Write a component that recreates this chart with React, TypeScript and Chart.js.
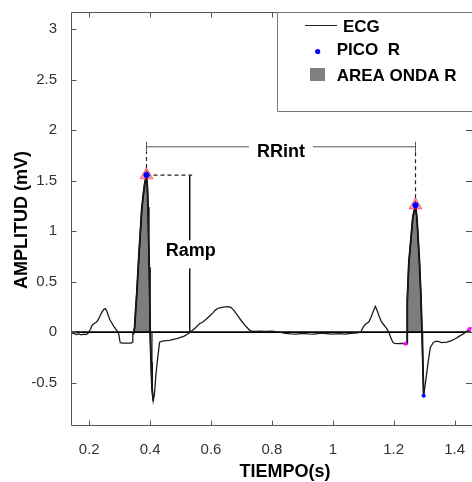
import React, { useEffect, useRef } from "react";
import { Chart, registerables } from "chart.js";

Chart.register(...registerables);

// ---------- data ----------
const ecgTime = [
  0.14, 0.15, 0.158, 0.166, 0.174, 0.182, 0.19, 0.197, 0.204, 0.21, 0.216, 0.224, 0.23, 0.236, 0.242, 0.248,
  0.253, 0.258, 0.263, 0.268, 0.274, 0.28, 0.286, 0.292, 0.297, 0.3, 0.302, 0.31, 0.32, 0.33, 0.338, 0.341,
  0.343, 0.346, 0.349, 0.352, 0.356, 0.36, 0.364, 0.368, 0.372, 0.377, 0.382, 0.388, 0.391, 0.393, 0.395,
  0.397, 0.399, 0.4, 0.403, 0.406, 0.41, 0.414, 0.419, 0.425, 0.431, 0.44, 0.452, 0.464, 0.476, 0.488, 0.5,
  0.512, 0.522, 0.53, 0.54, 0.55, 0.562, 0.573, 0.585, 0.595, 0.606, 0.615, 0.625, 0.64, 0.655, 0.665,
  0.675, 0.688, 0.7, 0.715, 0.728, 0.74, 0.76, 0.78, 0.8, 0.82, 0.84, 0.86, 0.88, 0.9, 0.92, 0.94, 0.96,
  0.98, 1.0, 1.02, 1.04, 1.06, 1.08, 1.092, 1.1, 1.108, 1.118, 1.126, 1.134, 1.14, 1.146, 1.153, 1.16,
  1.168, 1.176, 1.184, 1.19, 1.197, 1.203, 1.215, 1.228, 1.2386, 1.2443, 1.2446, 1.2498, 1.2586, 1.2629,
  1.2717, 1.2766, 1.2844, 1.2896, 1.293, 1.2985, 1.304, 1.3126, 1.3205, 1.331, 1.342, 1.358, 1.375, 1.39,
  1.402, 1.416, 1.4295, 1.441, 1.451, 1.459,
];
const ecgAmp = [
  -0.01, -0.012, -0.025, -0.018, -0.028, -0.02, -0.025, -0.01, 0.03, 0.07, 0.085, 0.1, 0.125, 0.165, 0.2, 0.225,
  0.232, 0.205, 0.16, 0.12, 0.09, 0.06, 0.035, 0.01, -0.02, -0.08, -0.105, -0.11, -0.11, -0.11, -0.11, -0.1,
  -0.02, -0.01, 0.05, 0.2, 0.38, 0.6, 0.81, 1.0, 1.2, 1.35, 1.47, 1.555, 1.43, 1.24, 0.95,
  0.64, 0.3, 0.0, -0.3, -0.55, -0.68, -0.62, -0.42, -0.25, -0.1, -0.09, -0.085, -0.082, -0.072, -0.065, -0.052,
  -0.04, -0.022, -0.005, 0.02, 0.045, 0.083, 0.1, 0.13, 0.16, 0.19, 0.22, 0.238, 0.248, 0.252, 0.245,
  0.215, 0.16, 0.11, 0.055, 0.015, 0.008, 0.01, 0.006, 0.01, 0.002, -0.01, -0.018, -0.02, -0.012, -0.018, -0.02, -0.01,
  -0.015, -0.02, -0.015, -0.02, -0.012, -0.008, 0.0, 0.05, 0.08, 0.1, 0.15, 0.215, 0.255, 0.21, 0.15, 0.1,
  0.07, 0.04, 0.0, -0.05, -0.1, -0.112, -0.115, -0.113, -0.115, -0.115, 0.31, 0.69, 0.99, 1.14,
  1.257, 1.12, 0.71, 0.35, 0.0, -0.63, -0.51, -0.31, -0.15, -0.1, -0.09, -0.105, -0.1, -0.085,
  -0.066, -0.04, -0.016, 0.01, 0.033, 0.05,
];
const peakTime = [0.388, 1.2717];
const peakAmp = [1.555, 1.257];
const onsetTime = [1.2386, 1.449];
const onsetAmp = [-0.115, 0.03];
const sMinTime = [1.2985];
const sMinAmp = [-0.63];
const areaStart = [0.343, 1.2443];
const areaEnd = [0.411, 1.2986];
const xTicks = [0.2, 0.4, 0.6, 0.8, 1, 1.2, 1.4];
const yTicks = [-0.5, 0, 0.5, 1, 1.5, 2, 2.5, 3];
const legendLabels = ["ECG", "PICO  R", "AREA ONDA R"];
const xTitle = "TIEMPO(s)";
const yTitle = "AMPLITUD (mV)";
const rrLabel = "RRint";
const rampLabel = "Ramp";

const X_MIN = 0.14;
const X_MAX = 1.4556;
const Y_MIN = -0.93;
const Y_MAX = 3.17;
const RR_LEVEL = 1.835;
const RR_CAP = 0.05;
const RAMP_X = 0.53;
const RAMP_TEXT_Y = 0.82;

const FONT = '"Liberation Sans", Arial, Helvetica, sans-serif';

const pts = (xs: number[], ys: number[]) => xs.map((x, i) => ({ x, y: ys[i] }));

const overlayPlugin = {
  id: "overlay",
  afterDraw(chart: any) {
    const { ctx, chartArea: a, scales } = chart;
    const x = scales.x;
    const y = scales.y;
    ctx.save();
    // frame (left, top, bottom) + inner ticks
    ctx.strokeStyle = "#555";
    ctx.lineWidth = 1;
    const L = Math.round(a.left) + 0.5;
    const R = Math.round(a.right);
    const T = Math.round(a.top) + 0.5;
    const B = Math.round(a.bottom) - 0.5;
    ctx.beginPath();
    ctx.moveTo(R, T);
    ctx.lineTo(L, T);
    ctx.lineTo(L, B);
    ctx.lineTo(R, B);
    for (const t of xTicks) {
      const px = Math.round(x.getPixelForValue(t)) + 0.5;
      ctx.moveTo(px, B);
      ctx.lineTo(px, B - 5);
      ctx.moveTo(px, T);
      ctx.lineTo(px, T + 5);
    }
    for (const t of yTicks) {
      const py = Math.round(y.getPixelForValue(t)) + 0.5;
      ctx.moveTo(L, py);
      ctx.lineTo(L + 5, py);
      ctx.moveTo(R, py);
      ctx.lineTo(R - 6, py);
    }
    ctx.stroke();

    // RRint label
    ctx.font = `bold 18px ${FONT}`;
    ctx.textAlign = "center";
    ctx.textBaseline = "alphabetic";
    const rrx = x.getPixelForValue((peakTime[0] + peakTime[1]) / 2);
    const rry = y.getPixelForValue(RR_LEVEL);
    const rrw = ctx.measureText(rrLabel).width;
    ctx.fillStyle = "#fff";
    ctx.fillRect(rrx - rrw / 2 - 8, rry - 10, rrw + 16, 20);
    ctx.fillStyle = "#000";
    ctx.fillText(rrLabel, rrx, rry + 4 + 0.358 * 18);

    // Ramp label
    const rpx = x.getPixelForValue(RAMP_X);
    const rpy = y.getPixelForValue(RAMP_TEXT_Y);
    const rpw = ctx.measureText(rampLabel).width;
    ctx.fillStyle = "#fff";
    ctx.fillRect(rpx - rpw / 2 - 2, rpy - 9, rpw + 4, 28);
    ctx.fillStyle = "#000";
    ctx.fillText(rampLabel, rpx + 1, rpy + 0.358 * 18);

    // legend (box continues past the right edge)
    ctx.fillStyle = "#fff";
    ctx.fillRect(277, 12, 230, 100);
    ctx.strokeStyle = "#777";
    ctx.lineWidth = 1;
    ctx.beginPath();
    ctx.moveTo(520, 12.5);
    ctx.lineTo(277.5, 12.5);
    ctx.lineTo(277.5, 111.5);
    ctx.lineTo(520, 111.5);
    ctx.stroke();
    ctx.strokeStyle = "#222";
    ctx.beginPath();
    ctx.moveTo(305, 25.5);
    ctx.lineTo(337, 25.5);
    ctx.stroke();
    ctx.fillStyle = "#0000ff";
    ctx.beginPath();
    ctx.arc(317.7, 51.5, 2.6, 0, Math.PI * 2);
    ctx.fill();
    ctx.fillStyle = "#808080";
    ctx.fillRect(310, 68, 15, 13);
    ctx.fillStyle = "#000";
    ctx.font = `bold 17px ${FONT}`;
    ctx.textAlign = "left";
    ctx.fillText(legendLabels[0], 343, 25.8 + 0.358 * 17);
    ctx.fillText(legendLabels[1], 336.7, 49.2 + 0.358 * 17);
    ctx.fillText(legendLabels[2], 336.7, 75 + 0.358 * 17);

    // axis titles
    ctx.font = `bold 18px ${FONT}`;
    ctx.textAlign = "center";
    ctx.fillText(xTitle, 285, 476.5);
    ctx.translate(27, 220);
    ctx.rotate(-Math.PI / 2);
    ctx.fillText(yTitle, 0, 0);
    ctx.restore();
  },
};

export default function App() {
  const ref = useRef<HTMLCanvasElement | null>(null);

  useEffect(() => {
    if (!ref.current) return;
    const ecg = pts(ecgTime, ecgAmp);
    const areas = areaStart.map((s, i) => ecg.filter((p) => p.x >= s && p.x <= areaEnd[i]));
    const p0 = { x: peakTime[0], y: peakAmp[0] };
    const p1 = { x: peakTime[1], y: peakAmp[1] };
    const base = { showLine: true, pointRadius: 0, fill: false, tension: 0 };
    const dashed = { ...base, borderColor: "#222", borderWidth: 1.2, borderDash: [4, 3] };

    const datasets: any[] = [
      { ...base, data: pts(peakTime, peakAmp), showLine: false, pointRadius: 3, pointBackgroundColor: "#0000ff", pointBorderColor: "#0000ff", borderWidth: 0, order: 0 },
      { ...base, data: pts(peakTime, peakAmp), showLine: false, pointStyle: "triangle", pointRadius: 7.5, pointBackgroundColor: "rgba(255,40,60,0.45)", pointBorderColor: "rgba(255,40,60,0.6)", pointBorderWidth: 1, order: 1 },
      { ...base, data: pts(onsetTime, onsetAmp), showLine: false, pointRadius: 1.6, pointBackgroundColor: "#ff00ff", pointBorderColor: "#ff00ff", order: 2 },
      { ...base, data: pts(sMinTime, sMinAmp), showLine: false, pointRadius: 1.6, pointBackgroundColor: "#0000ff", pointBorderColor: "#0000ff", order: 2 },
      { ...base, data: ecg, borderColor: "#1a1a1a", borderWidth: 1.3, order: 3 },
      { ...base, data: [{ x: X_MIN, y: 0 }, { x: X_MAX, y: 0 }], borderColor: "#000", borderWidth: 1.8, order: 4 },
      ...areas.map((d) => ({ ...base, data: d, fill: "origin", backgroundColor: "#7d7d7d", borderColor: "#000", borderWidth: 1.8, order: 5 })),
      // RRint
      { ...dashed, data: [p0, { x: p0.x, y: RR_LEVEL - RR_CAP }], order: 6 },
      { ...dashed, data: [p1, { x: p1.x, y: RR_LEVEL - RR_CAP }], order: 6 },
      { ...base, data: [{ x: p0.x, y: RR_LEVEL }, { x: p1.x, y: RR_LEVEL }], borderColor: "#555", borderWidth: 1, order: 6 },
      { ...base, data: [{ x: p0.x, y: RR_LEVEL - RR_CAP }, { x: p0.x, y: RR_LEVEL + RR_CAP }], borderColor: "#555", borderWidth: 1, order: 6 },
      { ...base, data: [{ x: p1.x, y: RR_LEVEL - RR_CAP }, { x: p1.x, y: RR_LEVEL + RR_CAP }], borderColor: "#555", borderWidth: 1, order: 6 },
      // Ramp
      { ...dashed, data: [p0, { x: RAMP_X + 0.008, y: p0.y }], order: 6 },
      { ...base, data: [{ x: RAMP_X, y: p0.y }, { x: RAMP_X, y: 0 }], borderColor: "#111", borderWidth: 1.5, order: 6 },
    ];

    const chart = new Chart(ref.current, {
      type: "scatter",
      data: { datasets },
      plugins: [overlayPlugin],
      options: {
        animation: false,
        responsive: false,
        devicePixelRatio: 1,
        layout: { padding: { top: 12, right: 7, left: 0, bottom: 0 } },
        plugins: { legend: { display: false }, tooltip: { enabled: false } },
        scales: {
          x: {
            type: "linear",
            min: X_MIN,
            max: X_MAX,
            afterBuildTicks: (s: any) => {
              s.ticks = xTicks.map((v) => ({ value: v }));
            },
            afterFit: (s: any) => {
              s.height = 56;
              s.paddingLeft = 0;
              s.paddingRight = 0;
            },
            grid: { display: false },
            border: { display: false },
            ticks: {
              padding: 7,
              color: "#333",
              font: { family: FONT, size: 15 },
              maxRotation: 0,
              autoSkip: false,
              callback: (v: any) => String(v),
            },
          },
          y: {
            type: "linear",
            min: Y_MIN,
            max: Y_MAX,
            afterBuildTicks: (s: any) => {
              s.ticks = yTicks.map((v) => ({ value: v }));
            },
            afterFit: (s: any) => {
              s.width = 71;
              s.paddingTop = 0;
              s.paddingBottom = 0;
            },
            grid: { display: false },
            border: { display: false },
            ticks: {
              padding: 6,
              color: "#333",
              font: { family: FONT, size: 15 },
              autoSkip: false,
              callback: (v: any) => String(v),
            },
          },
        },
      },
    });
    return () => chart.destroy();
  }, []);

  return (
    <div style={{ position: "fixed", left: 0, top: 0, width: 472, height: 482, overflow: "hidden", background: "#fff" }}>
      <canvas ref={ref} width={480} height={482} style={{ display: "block" }} />
    </div>
  );
}
